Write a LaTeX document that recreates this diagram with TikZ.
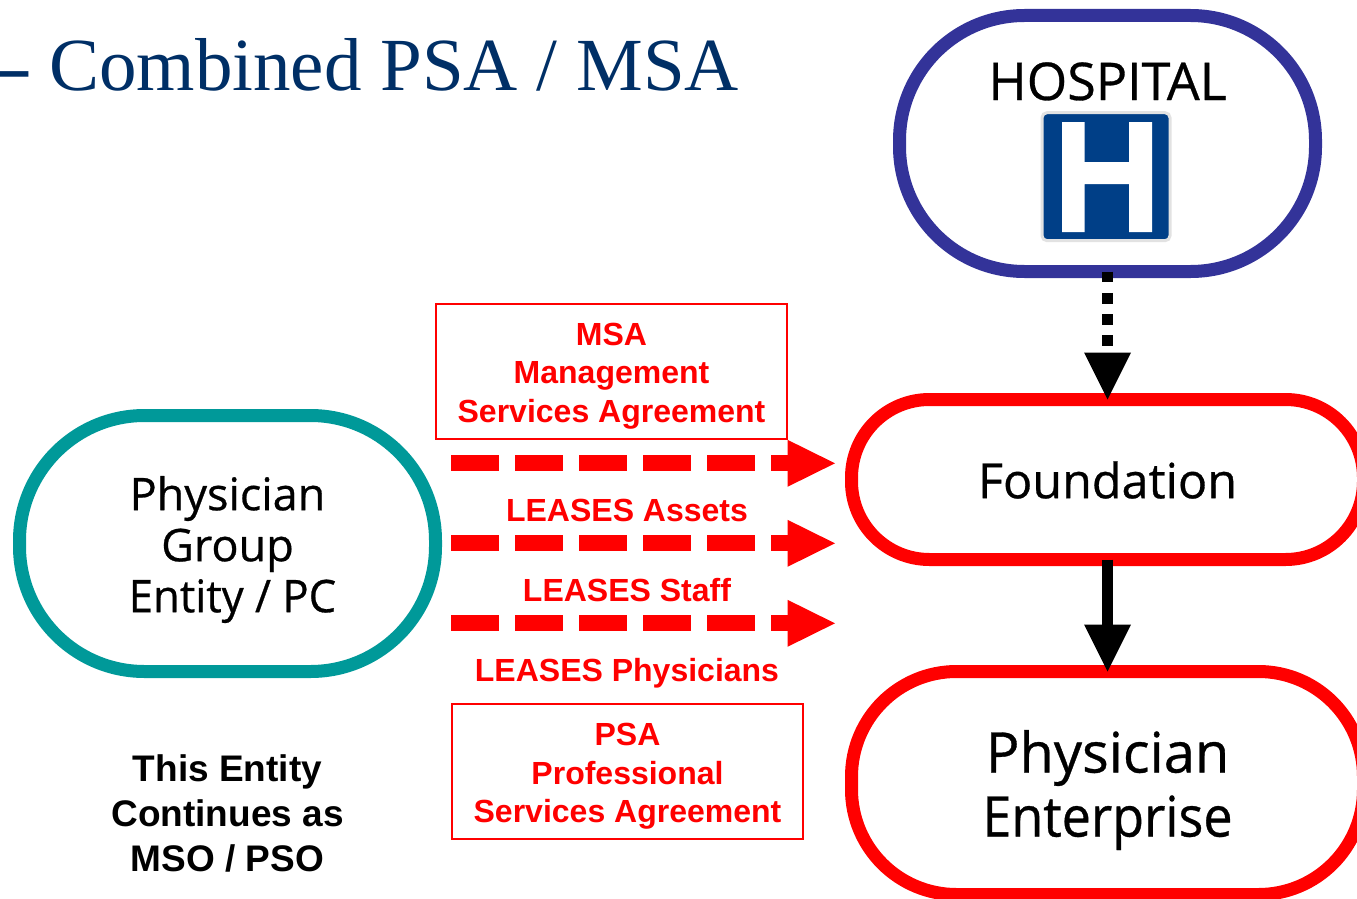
\documentclass[tikz,border=0pt]{standalone}
\usepackage{fontspec}
\setmainfont{Liberation Sans}
\newfontfamily\titlefont{Liberation Serif}
\newfontfamily\humfont[FakeBold=0.6]{Open Sans}
\usetikzlibrary{arrows.meta}
\definecolor{navy}{HTML}{002F66}
\definecolor{hospblue}{HTML}{333399}
\definecolor{tealring}{HTML}{009999}
\definecolor{signblue}{HTML}{003F87}
\definecolor{signedge}{HTML}{E2E2E2}
\tikzset{
  pill/.style={draw,line width=13pt,fill=white,rectangle,outer sep=0pt,inner sep=0pt},
  humlabel/.style={inner sep=0pt,align=center,text=black},
  redlabel/.style={text=red,inner sep=0pt,align=center,font=\bfseries\fontsize{32}{38.5}\selectfont},
  redbox/.style={draw=red,line width=2pt,rectangle,outer sep=0pt,inner sep=0pt,minimum width=351pt,minimum height=135pt},
  leasearrow/.style={draw=red,line width=16pt,dash pattern=on 48pt off 16pt,-{Triangle[length=47.5pt,width=47pt,line width=0pt,fill=red]}},
  blackhead/.style={draw=black,line width=11pt,-{Triangle[length=47pt,width=47pt,line width=0pt,fill=black]}},
}
\begin{document}
\begin{tikzpicture}[x=1pt,y=-1pt]
\useasboundingbox (0,0) rectangle (1357,899);
\node[anchor=base west,inner sep=0pt,text=navy,font=\titlefont\fontsize{56}{56}\selectfont] (dash) at (0,100) {\scalebox{1}[2]{–}};
\node[anchor=base west,inner sep=0pt,text=navy,font=\titlefont\fontsize{75}{75}\selectfont] (title) at (49,90) {Combined PSA / MSA};

\node[pill,draw=hospblue,minimum width=416pt,minimum height=256pt,rounded corners=125pt] (hospital) at (1107.5,143.5) {};
\node[humlabel,font=\humfont\fontsize{52}{52}\selectfont,anchor=base] (hosplabel) at (1107.5,100) {HOSPITAL};
\node[rectangle,fill=signblue,draw=signedge,line width=3pt,rounded corners=5pt,minimum width=128pt,minimum height=128pt,inner sep=0pt,outer sep=0pt] (sign) at (1106,176.7) {};
\fill[white] (1062,122) rectangle (1084.5,232) (1129,122) rectangle (1152,232) (1084,162) rectangle (1130,184);

\node[pill,draw=red,minimum width=512pt,minimum height=160pt,rounded corners=78pt] (foundation) at (1107.5,479.5) {};
\node[pill,draw=red,minimum width=512pt,minimum height=223pt,rounded corners=105pt] (enterprise) at (1107.5,783) {};
\node[pill,draw=tealring,minimum width=416pt,minimum height=256pt,rounded corners=125pt] (group) at (227.5,543.5) {};
\node[humlabel,font=\humfont\fontsize{48.5}{48.5}\selectfont] (foundlabel) at (1107.5,480) {Foundation};
\node[humlabel,font=\humfont\fontsize{56}{64}\selectfont] (entlabel) at (1107.5,790) {Physician\\\scalebox{0.93}[1]{Enterprise}};
\node[humlabel,font=\humfont\fontsize{45}{51}\selectfont] (grouplabel) at (227.5,549.5) {Physician\\Group\\\hspace*{10pt}\scalebox{0.97}[1]{Entity / PC}};

\draw[blackhead,dash pattern=on 10.7pt off 10.6pt] (hospital.south) -- (foundation.north);
\draw[blackhead] (foundation.south) -- (enterprise.north);

\node[redbox] (msa) at (611.5,371.5) {};
\node[redbox] (psa) at (627.5,771.5) {};
\node[redlabel] (msalabel) at (611.5,376) {MSA\\Management\\Services Agreement};
\node[redlabel] (psalabel) at (627.5,776.5) {PSA\\Professional\\Services Agreement};

\coordinate (a1s) at (451,463.3); \coordinate (a1e) at (835,463.3);
\coordinate (a2s) at (451,543.3); \coordinate (a2e) at (835,543.3);
\coordinate (a3s) at (451,623.3); \coordinate (a3e) at (835,623.3);
\draw[leasearrow] (a1s) -- (a1e);
\draw[leasearrow] (a2s) -- (a2e);
\draw[leasearrow] (a3s) -- (a3e);

\node[redlabel,anchor=base] (assets) at (627,521) {LEASES Assets};
\node[redlabel,anchor=base] (staff) at (627,601) {LEASES Staff};
\node[redlabel,anchor=base] (phys) at (627,681) {LEASES Physicians};

\node[inner sep=0pt,align=center,font=\bfseries\fontsize{37}{45}\selectfont] (entity) at (227.5,813) {This Entity\\Continues as\\MSO / PSO};
\end{tikzpicture}
\end{document}
